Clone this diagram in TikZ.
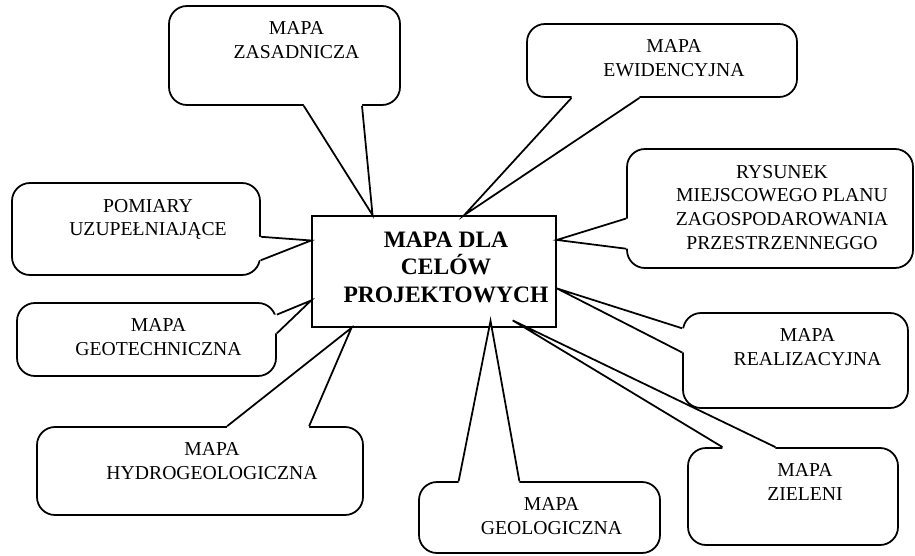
\documentclass[tikz,border=0pt]{standalone}
\usepackage{fontspec}
\setmainfont{Liberation Serif}
\usetikzlibrary{calc}

% callout wedge: box, side from/to anchors, base fractions, tip, inward shift
\newcommand{\callwedge}[7]{%
  \coordinate (w1) at ($(#1.#2)!#4!(#1.#3)$);
  \coordinate (w2) at ($(#1.#2)!#5!(#1.#3)$);
  \fill[white] ([shift={#7}]w1) -- (w1) -- #6 -- (w2) -- ([shift={#7}]w2) -- cycle;
  \draw[wedgeline] (w1) -- #6 -- (w2);
}

\begin{document}
\begin{tikzpicture}[
  callbox/.style={draw,fill=white,rounded corners=0.36cm,line width=1pt},
  calltxt/.style={anchor=north,align=center,inner sep=0pt,xshift=0.24cm,yshift=-0.33cm,font=\fontsize{11.2}{13.5}\selectfont},
  mainbox/.style={draw,fill=white,line width=1pt,minimum width=4.88cm,minimum height=2.22cm},
  maintxt/.style={calltxt,font=\fontsize{13.4}{15.6}\selectfont\bfseries},
  wedgeline/.style={line width=1pt}
]
\useasboundingbox (0,0) rectangle (18.3,11.1);

% central map
\node[mainbox,label={[maintxt]north:MAPA DLA\\CELÓW\\PROJEKTOWYCH}] (main) at (8.68,5.67) {};

% callouts
\node[callbox,minimum width=4.62cm,minimum height=1.98cm,label={[calltxt]north:MAPA\\ZASADNICZA}] (zas) at (5.69,9.99) {};
\node[callbox,minimum width=5.40cm,minimum height=1.46cm,label={[calltxt]north:MAPA\\EWIDENCYJNA}] (ewi) at (13.24,9.89) {};
\node[callbox,minimum width=5.72cm,minimum height=2.38cm,label={[calltxt]north:RYSUNEK\\MIEJSCOWEGO PLANU\\ZAGOSPODAROWANIA\\PRZESTRZENNEGGO}] (rys) at (15.40,6.93) {};
\node[callbox,minimum width=4.50cm,minimum height=1.90cm,label={[calltxt]north:MAPA\\REALIZACYJNA}] (rea) at (15.91,3.89) {};
\node[callbox,minimum width=4.20cm,minimum height=1.94cm,label={[calltxt]north:MAPA\\ZIELENI}] (zie) at (15.86,1.17) {};
\node[callbox,minimum width=4.82cm,minimum height=1.42cm,label={[calltxt]north:MAPA\\GEOLOGICZNA}] (geo) at (10.79,0.75) {};
\node[callbox,minimum width=6.52cm,minimum height=1.76cm,label={[calltxt]north:MAPA\\HYDROGEOLOGICZNA}] (hyd) at (4.00,1.68) {};
\node[callbox,minimum width=5.18cm,minimum height=1.46cm,label={[calltxt]north:MAPA\\GEOTECHNICZNA}] (gtc) at (2.93,4.31) {};
\node[callbox,minimum width=4.96cm,minimum height=1.84cm,label={[calltxt]north:POMIARY\\UZUPEŁNIAJĄCE}] (pom) at (2.72,6.52) {};

% wedges to the central map
\callwedge{zas}{south west}{south east}{.583}{.833}{($(main.north west)!.25!(main.north east)$)}{(0,2pt)}
\callwedge{ewi}{south west}{south east}{.167}{.417}{($(main.north west)!.623!(main.north east)$)}{(0,2pt)}
\callwedge{rys}{north west}{south west}{.583}{.833}{($(main.north east)!.22!(main.south east)$)}{(2pt,0)}
\callwedge{rea}{north west}{south west}{.167}{.417}{($(main.north east)!.65!(main.south east)$)}{(2pt,0)}
\callwedge{zie}{north west}{north east}{.167}{.417}{($(main.south west)!.82!(main.south east)+(0,0.15)$)}{(0,-2pt)}
\callwedge{geo}{north west}{north east}{.167}{.417}{($(main.south west)!.73!(main.south east)+(0,0.14)$)}{(0,-2pt)}
\callwedge{hyd}{north west}{north east}{.583}{.833}{($(main.south west)!.164!(main.south east)$)}{(0,-2pt)}
\callwedge{gtc}{north east}{south east}{.167}{.417}{($(main.north west)!.757!(main.south west)$)}{(-2pt,0)}
\callwedge{pom}{north east}{south east}{.583}{.833}{($(main.north west)!.225!(main.south west)$)}{(-2pt,0)}
\end{tikzpicture}
\end{document}
